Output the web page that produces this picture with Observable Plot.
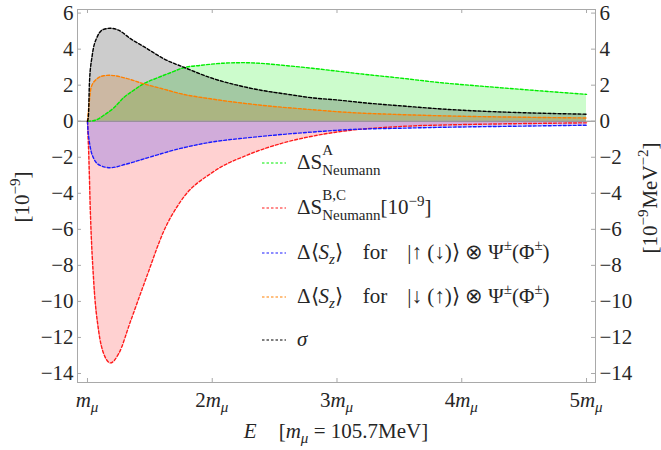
<!DOCTYPE html>
<html><head><meta charset="utf-8">
<script src="https://cdn.jsdelivr.net/npm/d3@7"></script>
<script src="https://cdn.jsdelivr.net/npm/@observablehq/plot@0.6"></script>
<style>
body{margin:0;background:#fff;}
#wrap{position:relative;width:661px;height:450px;}
#wrap svg, #wrap svg text, #wrap svg g{font-family:'Liberation Serif',serif !important;}
</style></head><body><div id="wrap"></div>
<script>
// ---- data ----
const xTicks = [1, 2, 3, 4, 5];
const yTicks = [-14, -12, -10, -8, -6, -4, -2, 0, 2, 4, 6];

const greenX = [1, 1.04, 1.08, 1.131, 1.211, 1.291, 1.371, 1.451, 1.558, 1.665, 1.772, 1.906, 2.09, 2.25, 2.39, 2.6, 2.8, 3.0, 3.25, 3.5, 3.83, 4.2, 4.6, 5.0];
const greenY = [0, 0.02, 0.1, 0.33, 0.74, 1.31, 1.72, 2.08, 2.4, 2.69, 2.97, 3.1, 3.22, 3.25, 3.21, 3.08, 2.94, 2.78, 2.58, 2.4, 2.14, 1.92, 1.7, 1.49];

const redX = [1, 1.004, 1.01, 1.024, 1.05, 1.09, 1.13, 1.184, 1.25, 1.345, 1.48, 1.61, 1.745, 2.01, 2.28, 2.55, 2.84, 3.11, 3.37, 3.64, 3.91, 4.5, 5.0];
const redY = [0, -0.7, -1.8, -5.2, -8.9, -11.66, -12.9, -13.41, -12.9, -11.1, -8.52, -6.12, -4.46, -2.8, -1.88, -1.24, -0.78, -0.5, -0.35, -0.25, -0.2, -0.13, -0.09];

const blueX = [1, 1.005, 1.012, 1.024, 1.05, 1.1, 1.184, 1.3, 1.48, 1.745, 2.01, 2.28, 2.55, 2.8, 3.11, 3.5, 3.9, 4.5, 5.0];
const blueY = [0, -0.6, -1.0, -1.51, -2.07, -2.45, -2.58, -2.4, -2.03, -1.51, -1.14, -0.92, -0.74, -0.6, -0.46, -0.39, -0.33, -0.27, -0.22];

const orangeX = [1, 1.01, 1.03, 1.078, 1.13, 1.18, 1.3, 1.45, 1.6, 1.745, 2.01, 2.39, 2.8, 3.11, 3.5, 3.9, 4.5, 5.0];
const orangeY = [0, 0.75, 1.9, 2.36, 2.52, 2.55, 2.4, 2.08, 1.8, 1.53, 1.22, 0.89, 0.64, 0.48, 0.37, 0.29, 0.22, 0.18];

const blackX = [1, 1.008, 1.016, 1.038, 1.078, 1.13, 1.184, 1.25, 1.345, 1.48, 1.61, 1.77, 2.01, 2.2, 2.39, 2.6, 2.8, 3.0, 3.25, 3.5, 3.9, 4.25, 4.6, 5.0];
const blackY = [0, 0.33, 2.18, 3.65, 4.68, 5.1, 5.16, 5.05, 4.58, 4.02, 3.47, 3.0, 2.36, 2.0, 1.72, 1.5, 1.3, 1.18, 1.0, 0.86, 0.65, 0.53, 0.45, 0.39];

const seriesColors = ["#00ee00", "#ff1a1a", "#1a1aff", "#ff8000", "#000000"];

// ---- build ----
const zip = (xs, ys) => xs.map((x, i) => ({x, y: ys[i]}));
const series = [zip(greenX, greenY), zip(redX, redY), zip(blueX, blueY), zip(orangeX, orangeY), zip(blackX, blackY)];

const W = 661, H = 450, mL = 77, mR = 66, mT = 9, mB = 68;
const iw = W - mL - mR, ih = H - mT - mB;
const frameCol = "#a9a9a9";
const tickLen = 4;
const FONT = "'Liberation Serif', serif";
const TXT = "#262626";

const marks = [];
series.forEach((d, i) => marks.push(Plot.areaY(d, {x: "x", y: "y", fill: seriesColors[i], fillOpacity: 0.2, curve: "monotone-x"})));
marks.push(Plot.ruleY([0], {stroke: "#858585", strokeWidth: 1}));
series.forEach((d, i) => marks.push(Plot.line(d, {x: "x", y: "y", stroke: seriesColors[i], strokeWidth: 1.4, strokeDasharray: "3,2", curve: "monotone-x"})));
marks.push(
  Plot.frame({stroke: frameCol}),
  Plot.tickY(yTicks, {y: d => d, insetRight: iw - tickLen, stroke: frameCol}),
  Plot.tickY(yTicks, {y: d => d, insetLeft: iw - tickLen, stroke: frameCol}),
  Plot.tickX(xTicks, {x: d => d, insetTop: ih - tickLen, stroke: frameCol}),
  Plot.tickX(xTicks, {x: d => d, insetBottom: ih - tickLen, stroke: frameCol}),
  Plot.axisY(yTicks, {anchor: "left", tickSize: 0, tickPadding: 4, label: null, tickFormat: d => d < 0 ? "\u2212" + (-d) : String(d)}),
  Plot.axisY(yTicks, {anchor: "right", tickSize: 0, tickPadding: 4, label: null, tickFormat: d => d < 0 ? "\u2212" + (-d) : String(d)}),
  Plot.axisX(xTicks, {anchor: "bottom", tickSize: 0, tickPadding: 10, label: null, tickFormat: () => ""})
);

const plot = Plot.plot({
  width: W, height: H,
  marginLeft: mL, marginRight: mR, marginTop: mT, marginBottom: mB,
  x: {domain: [0.92, 5.072]},
  y: {domain: [-14.5, 6.2]},
  style: {fontFamily: FONT, fontSize: "21px", color: TXT, background: "white", overflow: "visible"},
  marks
});
document.getElementById("wrap").appendChild(plot);

const svg = d3.select(plot);
const xs = plot.scale("x");

// rich text renderer: segs = [text, {i, s, b, g, st}]
function rich(g, x, y, segs) {
  let cx = x, pending = 0;
  for (const [t, o = {}] of segs) {
    cx += o.g || 0;
    const el = g.append("text").attr("x", cx).attr("y", y - (o.b || 0))
      .attr("text-anchor", "start")
      .attr("font-family", FONT).attr("font-size", o.s || 21).attr("fill", TXT)
      .attr("font-style", o.i ? "italic" : null).text(t);
    const w = el.node().getComputedTextLength();
    if (o.st) pending = Math.max(pending, w);
    else { cx += Math.max(w, pending); pending = 0; }
  }
  return cx - x;
}
function centered(parent, cx, cy, segs, rotate) {
  const g = parent.append("g").attr("transform", `translate(${cx},${cy})` + (rotate ? ` rotate(${rotate})` : ""));
  const inner = g.append("g");
  const w = rich(inner, 0, 0, segs);
  inner.attr("transform", `translate(${-w / 2},0)`);
}

const ann = svg.append("g").attr("text-anchor", "start");
// x tick labels
xTicks.forEach(v => {
  const segs = [];
  if (v !== 1) segs.push([String(v)]);
  segs.push(["m", {i: true}], ["\u03bc", {i: true, s: 15, b: -5}]);
  centered(ann, xs.apply(v), 407, segs);
});
// x axis label
centered(ann, 336, 438, [["E", {i: true}], ["[", {g: 22}], ["m", {i: true}], ["\u03bc", {i: true, s: 15, b: -5}], [" = 105.7MeV]"]]);
// left y label
centered(ann, 29, 197, [["[10"], ["\u22129", {s: 15, b: 9}], ["]"]], -90);
// right y label
centered(ann, 657, 198, [["[10"], ["\u22129", {s: 15, b: 9}], ["MeV", {g: 1}], ["\u22122", {s: 15, b: 9}], ["]"]], -90);

// legend
const legendLabels = [
  [["\u0394S"], ["A", {s: 15, b: 14, st: true}], ["Neumann", {s: 15, b: -6}]],
  [["\u0394S"], ["B,C", {s: 15, b: 14, st: true}], ["Neumann", {s: 15, b: -6}], ["[10"], ["\u22129", {s: 15, b: 8}], ["]"]],
  [["\u0394\u27e8"], ["S", {i: true}], ["z", {i: true, s: 15, b: -5}], ["\u27e9"], ["for", {g: 20}], ["|\u2191 (\u2193)\u27e9 \u2297 \u03a8", {g: 20}], ["\u00b1", {s: 15, b: 9}], ["(\u03a6"], ["\u00b1", {s: 15, b: 9}], [")"]],
  [["\u0394\u27e8"], ["S", {i: true}], ["z", {i: true, s: 15, b: -5}], ["\u27e9"], ["for", {g: 20}], ["|\u2193 (\u2191)\u27e9 \u2297 \u03a8", {g: 20}], ["\u00b1", {s: 15, b: 9}], ["(\u03a6"], ["\u00b1", {s: 15, b: 9}], [")"]],
  [["\u03c3", {i: true}]]
];
const legendBaselines = [169, 214, 259, 303, 346];
legendLabels.forEach((segs, i) => {
  const by = legendBaselines[i];
  ann.append("line").attr("x1", 262).attr("x2", 286).attr("y1", by - 6).attr("y2", by - 6)
    .attr("stroke", seriesColors[i]).attr("stroke-width", 1.2).attr("stroke-dasharray", "2.5,2");
  rich(ann, 297, by, segs);
});
</script>
</body></html>
